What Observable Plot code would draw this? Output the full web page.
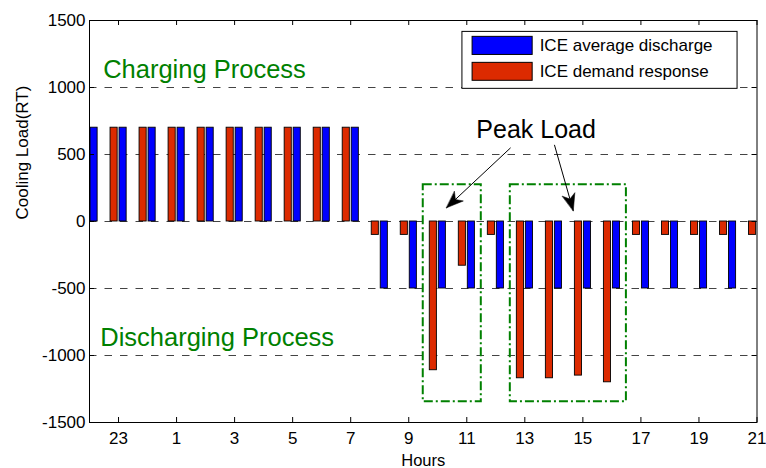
<!DOCTYPE html>
<html>
<head>
<meta charset="utf-8">
<script src="https://cdn.jsdelivr.net/npm/d3@7"></script>
<script src="https://cdn.jsdelivr.net/npm/@observablehq/plot@0.6"></script>
<style>
  html, body { margin: 0; padding: 0; background: white; }
</style>
</head>
<body>
<div id="chart"></div>
<script>
// ---- data ----
const hours = [22, 23, 0, 1, 2, 3, 4, 5, 6, 7, 8, 9, 10, 11, 12, 13, 14, 15, 16, 17, 18, 19, 20, 21];
const averageDischarge = [700, 700, 700, 700, 700, 700, 700, 700, 700, 700,
  -500, -500, -500, -500, -500, -500, -500, -500, -500, -500, -500, -500, -500, -500];
const demandResponse = [700, 700, 700, 700, 700, 700, 700, 700, 700, 700,
  -100, -100, -1110, -330, -100, -1170, -1170, -1150, -1200, -100, -100, -100, -100, -100];
const xTickHours = [23, 1, 3, 5, 7, 9, 11, 13, 15, 17, 19, 21];
const yTicks = [-1500, -1000, -500, 0, 500, 1000, 1500];
const seriesNames = ["ICE average discharge", "ICE demand response"];

// ---- annotations (data units) ----
const peakBoxes = [
  {x1: 11.5, x2: 13.5, y1: -1345, y2: 274},
  {x1: 14.5, x2: 18.5, y1: -1345, y2: 274}
];
const peakArrows = [
  {x1: 14.51, y1: 550, x2: 12.30, y2: 102},
  {x1: 16.02, y1: 572, x2: 16.67, y2: 80}
];
const labels = [
  {x: 0.47, y: 1074, text: "Charging Process", color: "#008000", size: 25.5},
  {x: 0.37, y: -927, text: "Discharging Process", color: "#008000", size: 25.5},
  {x: 13.33, y: 624, text: "Peak Load", color: "black", size: 25}
];
const legendBox = {x1: 12.85, x2: 22.33, y1: 990, y2: 1415};
const legendItems = [
  {name: seriesNames[0], color: "#0000ff", x1: 13.2, x2: 15.27, y1: 1243, y2: 1378, tx: 15.51, ty: 1312},
  {name: seriesNames[1], color: "#dc2a00", x1: 13.2, x2: 15.27, y1: 1050, y2: 1184, tx: 15.51, ty: 1118}
];

// ---- layout ----
const W = 766, H = 468, mL = 89, mR = 9.5, mT = 20, mB = 46;
const xDomain = [0, hours.length - 1];
const yDomain = [-1500, 1500];
const kx = (W - mL - mR) / (xDomain[1] - xDomain[0]);
const ky = (H - mT - mB) / (yDomain[1] - yDomain[0]);

const rows = hours.map((h, i) => ({i, hour: h, blue: averageDischarge[i], red: demandResponse[i]}));
const tickIdx = xTickHours.map(h => hours.indexOf(h));

const arrowHeads = peakArrows.map(a => {
  const dx = (a.x2 - a.x1) * kx, dy = -(a.y2 - a.y1) * ky;
  return {x: a.x2, y: a.y2, angle: Math.atan2(dx, -dy) * 180 / Math.PI};
});
const headShape = {
  draw(context, l, r) {
    context.moveTo(0, -l);
    context.lineTo(-r, 0);
    context.lineTo(0, -l * 0.28);
    context.lineTo(r, 0);
    context.closePath();
  }
};

const tickLenX = 5 / ky; // y-units for 5px
const tickLenY = 5 / kx; // x-units for 5px

const plot = Plot.plot({
  width: W,
  height: H,
  marginLeft: mL,
  marginRight: mR,
  marginTop: mT,
  marginBottom: mB,
  style: {fontFamily: "'Liberation Sans', Arial, sans-serif", fontSize: "17px", background: "white", color: "black"},
  x: {type: "linear", domain: xDomain, axis: null},
  y: {domain: yDomain, axis: null},
  marks: [
    // grid
    Plot.ruleY(yTicks.filter(v => Math.abs(v) < 1500), {stroke: "#444", strokeWidth: 1, strokeDasharray: "7.5,8"}),
    // bars
    Plot.rect(rows, {x1: d => d.i - 0.275, x2: d => d.i - 0.03, y1: 0, y2: "red", fill: "#dc2a00", stroke: "black", strokeWidth: 0.9, clip: true}),
    Plot.rect(rows, {x1: d => d.i + 0.035, x2: d => d.i + 0.28, y1: 0, y2: "blue", fill: "#0000ff", stroke: "black", strokeWidth: 0.9, clip: true}),
    // peak boxes
    Plot.rect(peakBoxes, {x1: "x1", x2: "x2", y1: "y1", y2: "y2", fill: "none", stroke: "#008000", strokeWidth: 2, strokeDasharray: "9,3,2,3"}),
    // arrows
    Plot.link(peakArrows, {x1: "x1", y1: "y1", x2: "x2", y2: "y2", stroke: "black", strokeWidth: 1}),
    Plot.vector(arrowHeads, {x: "x", y: "y", rotate: "angle", length: 17, r: 6.5, anchor: "end", shape: headShape, fill: "black", stroke: "black", strokeWidth: 0.5}),
    // text labels
    Plot.text(labels, {x: "x", y: "y", text: "text", fill: "color", fontSize: d => d.size, textAnchor: "start", lineAnchor: "bottom"}),
    // legend
    Plot.rect([legendBox], {x1: "x1", x2: "x2", y1: "y1", y2: "y2", fill: "white", stroke: "black", strokeWidth: 1}),
    Plot.rect(legendItems, {x1: "x1", x2: "x2", y1: "y1", y2: "y2", fill: "color", stroke: "black", strokeWidth: 1}),
    Plot.text(legendItems, {x: "tx", y: "ty", text: "name", textAnchor: "start", fontSize: 17, fill: "black"}),
    // frame + inward ticks
    Plot.frame({stroke: "black", strokeWidth: 1}),
    Plot.ruleX(tickIdx, {y1: yDomain[0], y2: yDomain[0] + tickLenX, stroke: "black"}),
    Plot.ruleX(tickIdx, {y1: yDomain[1], y2: yDomain[1] - tickLenX, stroke: "black"}),
    Plot.ruleY(yTicks, {x1: xDomain[0], x2: xDomain[0] + tickLenY, stroke: "black"}),
    Plot.ruleY(yTicks, {x1: xDomain[1], x2: xDomain[1] - tickLenY, stroke: "black"}),
    // axes labels
    Plot.axisX(tickIdx, {anchor: "bottom", tickSize: 0, tickPadding: 9, tickFormat: i => String(hours[i]), fontSize: 17, label: null}),
    Plot.axisY(yTicks, {anchor: "left", tickSize: 0, tickPadding: 4, tickFormat: d => String(d), fontSize: 17, label: null}),
    Plot.text(["Hours"], {frameAnchor: "bottom", dy: 43, lineAnchor: "bottom", fontSize: 16.5, fill: "black"}),
    Plot.text(["Cooling Load(RT)"], {frameAnchor: "left", rotate: -90, dx: -67, dy: -2, fontSize: 17, fill: "black"})
  ]
});
document.getElementById("chart").appendChild(plot);
</script>
</body>
</html>
